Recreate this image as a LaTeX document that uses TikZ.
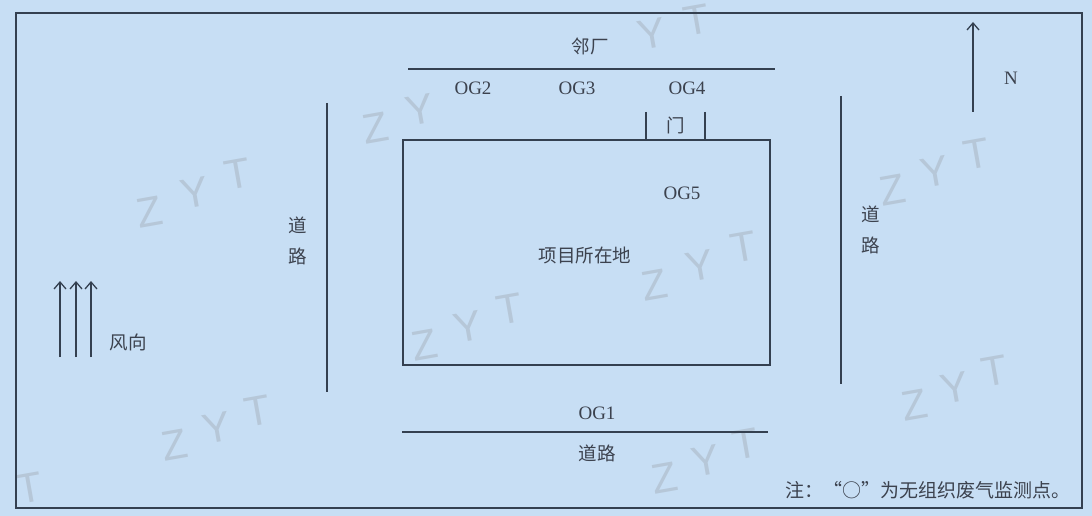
\documentclass[tikz,border=0pt]{standalone}
\usepackage{fontspec}
\setmainfont{Liberation Serif}
\newfontfamily\cjk{Noto Sans CJK SC}
\newfontfamily\wmfont{Liberation Sans}
\usetikzlibrary{arrows.meta}
\definecolor{bgblue}{RGB}{199,222,244}
\definecolor{ink}{RGB}{52,64,80}
\definecolor{txt}{RGB}{60,66,78}
\definecolor{wm}{RGB}{182,199,216}
\tikzset{
  road/.style={draw=ink, line width=1.8pt},
  frame/.style={draw=ink, line width=1.4pt},
  cn/.style={text=txt, font=\cjk\fontsize{18.5}{20}\selectfont, inner sep=0pt},
  og/.style={text=txt, font=\fontsize{19}{21}\selectfont, inner sep=0pt},
  wmark/.style={text=wm, font=\wmfont\fontsize{42}{44}\selectfont, rotate=10, inner sep=0pt},
  windarrow/.style={draw=ink, line width=1.3pt, -{Straight Barb[length=7pt,width=12pt,line width=1.3pt]}}
}
\begin{document}
\begin{tikzpicture}[x=1pt,y=-1pt]
\fill[bgblue] (0,0) rectangle (1092,516);
\useasboundingbox (0,0) rectangle (1092,516);
% watermarks (letters spaced as in the scan)
\node[wmark] (w1z) at (150,212) {Z};
\node[wmark] (w1y) at (195,193) {Y};
\node[wmark] (w1t) at (238,174) {T};
\node[wmark] (w2z) at (376,128) {Z};
\node[wmark] (w2y) at (420,110) {Y};
\node[wmark] (w3y) at (652,34) {Y};
\node[wmark] (w3t) at (697,20) {T};
\node[wmark] (w4z) at (655,285) {Z};
\node[wmark] (w4y) at (700,266) {Y};
\node[wmark] (w4t) at (744,247) {T};
\node[wmark] (w5z) at (425,345) {Z};
\node[wmark] (w5y) at (468,327) {Y};
\node[wmark] (w5t) at (510,309) {T};
\node[wmark] (w6z) at (893,190) {Z};
\node[wmark] (w6y) at (935,172) {Y};
\node[wmark] (w6t) at (977,154) {T};
\node[wmark] (w7z) at (175,445) {Z};
\node[wmark] (w7y) at (217,428) {Y};
\node[wmark] (w7t) at (258,411) {T};
\node[wmark] (w8z) at (915,405) {Z};
\node[wmark] (w8y) at (955,388) {Y};
\node[wmark] (w8t) at (995,371) {T};
\node[wmark] (w9z) at (665,478) {Z};
\node[wmark] (w9y) at (706,461) {Y};
\node[wmark] (w9t) at (746,444) {T};
\node[wmark] (w10t) at (30,488) {T};
% outer frame
\draw[frame] (16,13) rectangle (1082,508);
% neighbouring factory line
\coordinate (nl) at (408,69);
\coordinate (nr) at (775,69);
\draw[road] (nl) -- (nr);
\node[cn] (linchang) at (590,46) {邻厂};
\node[og] (og2) at (473,88) {OG2};
\node[og] (og3) at (577,88) {OG3};
\node[og] (og4) at (687,88) {OG4};
% site
\coordinate (s1) at (403,140);
\coordinate (s2) at (770,365);
\draw[road] (s1) rectangle (s2);
\coordinate (d1) at (646,112);
\coordinate (d1b) at (646,140);
\coordinate (d2) at (705,112);
\coordinate (d2b) at (705,140);
\draw[road] (d1) -- (d1b);
\draw[road] (d2) -- (d2b);
\node[cn] (men) at (676,125) {门};
\node[og] (og5) at (682,193) {OG5};
\node[cn] (site) at (585,255) {项目所在地};
% left road
\coordinate (lt) at (327,103);
\coordinate (lb) at (327,392);
\draw[road] (lt) -- (lb);
\node[cn] (ld) at (298,225) {道};
\node[cn] (ll) at (298,256) {路};
% right road
\coordinate (rt) at (841,96);
\coordinate (rb) at (841,384);
\draw[road] (rt) -- (rb);
\node[cn] (rd) at (871,214) {道};
\node[cn] (rl) at (871,245) {路};
% bottom road
\node[og] (og1) at (597,413) {OG1};
\coordinate (bl) at (402,432);
\coordinate (br) at (768,432);
\draw[road] (bl) -- (br);
\node[cn] (bottomroad) at (597,453) {道路};
% wind
\coordinate (wa1) at (60,357);
\coordinate (wa1t) at (60,281);
\coordinate (wa2) at (76,357);
\coordinate (wa2t) at (76,281);
\coordinate (wa3) at (91,357);
\coordinate (wa3t) at (91,281);
\draw[windarrow] (wa1) -- (wa1t);
\draw[windarrow] (wa2) -- (wa2t);
\draw[windarrow] (wa3) -- (wa3t);
\node[cn] (wind) at (128,342) {风向};
% north
\coordinate (ns) at (973,112);
\coordinate (ne) at (973,22);
\draw[windarrow] (ns) -- (ne);
\node[og] (north) at (1011,78) {N};
% note
\node[cn, anchor=east, font=\cjk\fontsize{19}{21}\selectfont] (note) at (1071,490) {注：“○”为无组织废气监测点。};
\end{tikzpicture}
\end{document}
